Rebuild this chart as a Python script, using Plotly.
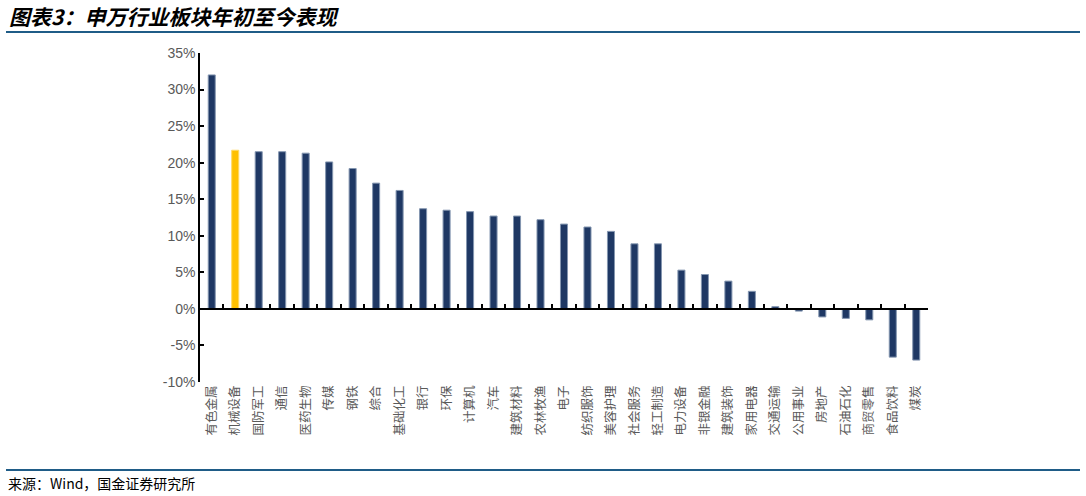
import plotly.graph_objects as go

categories = ["有色金属", "机械设备", "国防军工", "通信", "医药生物", "传媒", "钢铁", "综合",
              "基础化工", "银行", "环保", "计算机", "汽车", "建筑材料", "农林牧渔", "电子",
              "纺织服饰", "美容护理", "社会服务", "轻工制造", "电力设备", "非银金融", "建筑装饰",
              "家用电器", "交通运输", "公用事业", "房地产", "石油石化", "商贸零售", "食品饮料", "煤炭"]
values = [32.0, 21.7, 21.5, 21.5, 21.3, 20.1, 19.2, 17.2,
          16.2, 13.7, 13.5, 13.3, 12.7, 12.7, 12.2, 11.6,
          11.2, 10.6, 8.9, 8.9, 5.3, 4.7, 3.8, 2.4,
          0.3, -0.3, -1.1, -1.3, -1.5, -6.6, -7.0]
highlight = "机械设备"
y_ticks = [-10, -5, 0, 5, 10, 15, 20, 25, 30, 35]

NAVY = "#1F3864"
GOLD = "#FFC000"
colors = [GOLD if c == highlight else NAVY for c in categories]
edge = ["#FFD966" if c == highlight else "#8496B0" for c in categories]

W, H = 1086, 496
# plot area in page pixels: left 200, right 928, top 53, bottom 382
L, T = 200, 53
R = W - 928
B = H - 382
pw, ph = W - L - R, H - T - B

def px_x(px):
    return (px - L) / pw

def px_y(py):
    return (H - B - py) / ph

fig = go.Figure()
fig.add_trace(go.Bar(x=categories, y=values, marker=dict(color=colors, line=dict(color=edge, width=1)),
                     width=0.3, xaxis="x", yaxis="y", showlegend=False, hoverinfo="x+y"))
fig.add_trace(go.Scatter(x=categories, y=[None] * len(categories), xaxis="x2", yaxis="y",
                         showlegend=False, hoverinfo="skip", mode="markers"))

ymin, ymax = -10, 35
fig.update_layout(
    width=W, height=H,
    margin=dict(l=L, r=R, t=T, b=B),
    paper_bgcolor="white", plot_bgcolor="white",
    xaxis=dict(type="category", anchor="free", position=(0 - ymin) / (ymax - ymin),
               showline=True, linecolor="black", linewidth=1.5,
               ticks="inside", tickson="boundaries", ticklen=4, tickwidth=1.5, tickcolor="black",
               showticklabels=False, showgrid=False, zeroline=False, range=[-0.5, len(categories) - 0.5]),
    xaxis2=dict(type="category", overlaying="x", matches="x", anchor="y", side="bottom",
                showline=False, ticks="", showgrid=False, zeroline=False,
                tickangle=-90,
                tickfont=dict(family="Noto Sans CJK SC", size=12.5, color="#595959")),
    yaxis=dict(range=[ymin, ymax], tickvals=y_ticks, ticktext=[f"{v}%" for v in y_ticks],
               showline=True, linecolor="black", linewidth=1.5,
               ticks="inside", ticklen=4, tickwidth=1.5, tickcolor="black",
               showgrid=False, zeroline=False,
               tickfont=dict(family="Liberation Sans", size=14, color="#595959")),
    font=dict(family="Noto Sans CJK SC"),
)

# title and source
fig.add_annotation(text="<b><i>图表3：申万行业板块年初至今表现</i></b>", xref="paper", yref="paper",
                   x=px_x(7), y=px_y(16), xanchor="left", yanchor="middle", showarrow=False,
                   font=dict(family="Noto Sans CJK SC", size=21, color="black"))
fig.add_annotation(text="来源：Wind，国金证券研究所", xref="paper", yref="paper",
                   x=px_x(6), y=px_y(483), xanchor="left", yanchor="middle", showarrow=False,
                   font=dict(family="Noto Sans CJK SC", size=14, color="black"))
fig.add_shape(type="line", xref="paper", yref="paper", x0=px_x(6), x1=px_x(1080),
              y0=px_y(32), y1=px_y(32), line=dict(color="#1F5C87", width=2))
fig.add_shape(type="line", xref="paper", yref="paper", x0=px_x(6), x1=px_x(1080),
              y0=px_y(470), y1=px_y(470), line=dict(color="#1F5C87", width=2))

fig.write_html(
    "out.html",
    config={"displayModeBar": False},
    post_script="document.body.style.margin='0';document.documentElement.style.overflow='hidden';",
)
